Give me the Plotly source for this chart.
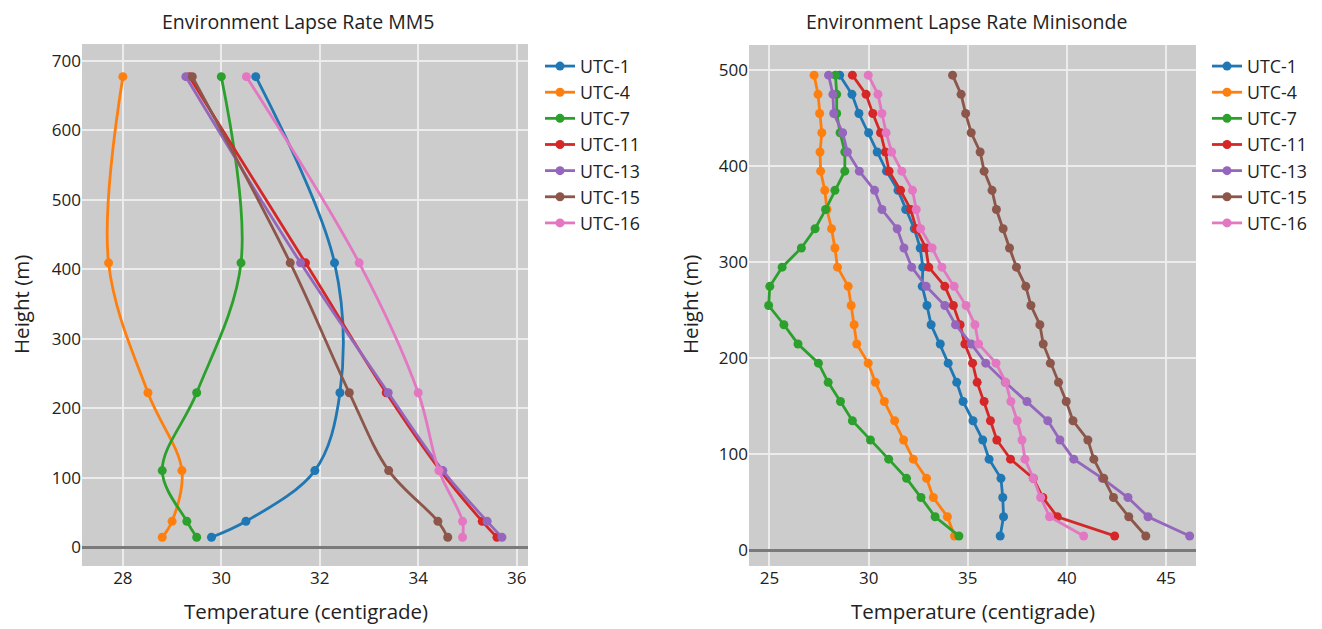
import plotly.graph_objects as go

# The page body has an 8px default margin, so the figure is drawn 8px in
# from the top-left corner of the 1322x629 window.
PAGE_W, PAGE_H = 1322, 629
OFF = 8
W, H = PAGE_W - OFF, PAGE_H - OFF

# ---------------- data ----------------
series_names = ["UTC-1", "UTC-4", "UTC-7", "UTC-11", "UTC-13", "UTC-15", "UTC-16"]
colors = ["#1f77b4", "#ff7f0e", "#2ca02c", "#d62728", "#9467bd", "#8c564b", "#e377c2"]

# MM5 model levels (m)
mm5_height = [14, 37, 110, 222, 409, 677]
mm5_utc1 = [29.8, 30.5, 31.9, 32.41, 32.3, 30.7]
mm5_utc4 = [28.8, 29.0, 29.2, 28.51, 27.71, 28.0]
mm5_utc7 = [29.5, 29.3, 28.8, 29.5, 30.4, 30.0]
mm5_utc11 = [35.6, 35.3, 34.45, 33.35, 31.71, 29.35]
mm5_utc13 = [35.7, 35.4, 34.5, 33.39, 31.61, 29.28]
mm5_utc15 = [34.6, 34.4, 33.4, 32.6, 31.4, 29.41]
mm5_utc16 = [34.9, 34.9, 34.42, 34.0, 32.8, 30.51]

# Minisonde levels (m)
mini_height = [15, 35, 55, 75, 95, 115, 135, 155, 175, 195, 215, 235, 255,
               275, 295, 315, 335, 355, 375, 395, 415, 435, 455, 475, 495]
mini_utc1 = [36.63, 36.80, 36.76, 36.67, 36.07, 35.75, 35.26, 34.76, 34.44, 34.01, 33.61, 33.15, 32.94,
             32.70, 32.73, 32.60, 32.30, 31.87, 31.48, 30.90, 30.43, 30.00, 29.51, 29.16, 28.54]
mini_utc4 = [34.33, 33.97, 33.26, 32.92, 32.25, 31.76, 31.31, 30.79, 30.34, 29.98, 29.40, 29.27, 29.12,
             28.97, 28.43, 28.30, 28.13, 27.90, 27.79, 27.58, 27.55, 27.64, 27.53, 27.45, 27.25]
mini_utc7 = [34.55, 33.35, 32.64, 31.91, 31.01, 30.09, 29.18, 28.58, 27.96, 27.47, 26.44, 25.73, 24.96,
             25.02, 25.64, 26.61, 27.30, 27.83, 28.30, 28.80, 28.80, 28.56, 28.39, 28.39, 28.33]
mini_utc11 = [42.40, 39.51, 38.78, 38.30, 37.15, 36.46, 36.14, 35.82, 35.47, 35.24, 34.85, 34.61, 34.27,
              33.84, 33.03, 32.88, 32.40, 32.12, 31.61, 31.03, 30.84, 30.60, 30.21, 29.87, 29.18]
mini_utc13 = [46.18, 44.08, 43.07, 41.78, 40.34, 39.64, 39.03, 37.98, 36.89, 35.90, 35.17, 34.38, 33.84,
              32.90, 32.17, 31.78, 31.44, 30.67, 30.30, 29.53, 28.93, 28.69, 28.24, 28.20, 27.98]
mini_utc15 = [43.97, 43.11, 42.34, 41.85, 41.35, 41.05, 40.30, 39.96, 39.57, 39.16, 38.80, 38.63, 38.18,
              37.92, 37.45, 37.10, 36.78, 36.44, 36.22, 35.82, 35.62, 35.17, 34.89, 34.66, 34.23]
mini_utc16 = [40.84, 39.12, 38.67, 38.30, 37.88, 37.73, 37.49, 37.17, 36.91, 36.42, 35.54, 35.36, 34.91,
              34.31, 33.69, 33.20, 32.62, 32.40, 32.21, 31.67, 31.16, 30.88, 30.67, 30.47, 29.98]

mm5_series = [mm5_utc1, mm5_utc4, mm5_utc7, mm5_utc11, mm5_utc13, mm5_utc15, mm5_utc16]
mini_series = [mini_utc1, mini_utc4, mini_utc7, mini_utc11, mini_utc13, mini_utc15, mini_utc16]

titles = ["Environment Lapse Rate MM5", "Environment Lapse Rate Minisonde"]
x_title = "Temperature (centigrade)"
y_title = "Height (m)"

# ---------------- layout helpers (page pixel -> paper fraction) ----------------
def fx(px):
    return (px - OFF) / W

def fy(py):
    return 1 - (py - OFF) / H

FONT = "Open Sans"
TXT = "#222222"

fig = go.Figure()

for name, col, vals in zip(series_names, colors, mm5_series):
    fig.add_trace(go.Scatter(
        x=vals, y=mm5_height, name=name, mode="lines+markers",
        line=dict(color=col, width=2.8, shape="spline"),
        marker=dict(color=col, size=9),
        xaxis="x", yaxis="y", legend="legend"))

for name, col, vals in zip(series_names, colors, mini_series):
    fig.add_trace(go.Scatter(
        x=vals, y=mini_height, name=name, mode="lines+markers",
        line=dict(color=col, width=2.8),
        marker=dict(color=col, size=9),
        xaxis="x2", yaxis="y2", legend="legend2"))

axis_common = dict(
    showgrid=True, gridcolor="#ececec", gridwidth=1.5,
    zeroline=False, showline=False, ticks="",
    tickfont=dict(family=FONT, size=17, color=TXT),
    automargin=False,
)

L_PLOT = (82, 528)
R_PLOT = (749, 1196)
TOP, BOT = 44, 566

fig.update_layout(
    width=W, height=H,
    margin=dict(l=0, r=0, t=0, b=0),
    paper_bgcolor="white",
    plot_bgcolor="#cccccc",
    font=dict(family=FONT, color=TXT),
    xaxis=dict(axis_common, domain=[fx(L_PLOT[0]), fx(L_PLOT[1])], range=[27.17, 36.23],
               dtick=2, anchor="y"),
    yaxis=dict(axis_common, domain=[fy(BOT), fy(TOP)], range=[-27.3, 724], dtick=100,
               anchor="x", zeroline=True, zerolinecolor="#7a7a7a", zerolinewidth=2.5),
    xaxis2=dict(axis_common, domain=[fx(R_PLOT[0]), fx(R_PLOT[1])], range=[23.97, 46.5],
                dtick=5, anchor="y2"),
    yaxis2=dict(axis_common, domain=[fy(BOT), fy(TOP + 1)], range=[-16.3, 526.4], dtick=100,
                anchor="x2", zeroline=True, zerolinecolor="#7a7a7a", zerolinewidth=2.5),
    legend=dict(x=fx(540), y=fy(48), xanchor="left", yanchor="top",
                font=dict(family=FONT, size=17.8, color=TXT), bgcolor="rgba(0,0,0,0)"),
    legend2=dict(x=fx(1207), y=fy(48), xanchor="left", yanchor="top",
                 font=dict(family=FONT, size=17.8, color=TXT), bgcolor="rgba(0,0,0,0)"),
    showlegend=True,
)

annotations = []
for t, cx in zip(titles, [298, 966]):
    annotations.append(dict(text=t, x=fx(cx), y=fy(22), xref="paper", yref="paper",
                            xanchor="center", yanchor="middle", showarrow=False,
                            font=dict(family=FONT, size=19.5, color=TXT)))
for cx in [306, 973]:
    annotations.append(dict(text=x_title, x=fx(cx), y=fy(611), xref="paper", yref="paper",
                            xanchor="center", yanchor="middle", showarrow=False,
                            font=dict(family=FONT, size=20.5, color=TXT)))
for cx in [21, 690]:
    annotations.append(dict(text=y_title, x=fx(cx), y=fy(305), xref="paper", yref="paper",
                            xanchor="center", yanchor="middle", showarrow=False, textangle=-90,
                            font=dict(family=FONT, size=20.5, color=TXT)))
fig.update_layout(annotations=annotations)

fig.write_html("out.html")
